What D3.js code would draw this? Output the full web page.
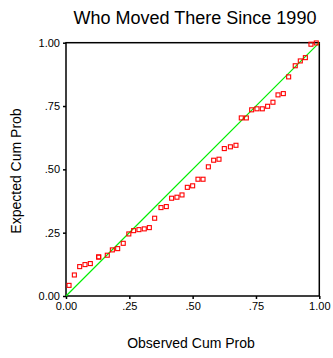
<!DOCTYPE html>
<html>
<head>
<meta charset="utf-8">
<script src="https://cdn.jsdelivr.net/npm/d3@7"></script>
<style>
  body { margin: 0; background: #fff; }
  svg { display: block; font-family: "Liberation Sans", Arial, sans-serif; }
</style>
</head>
<body>
<div id="chart"></div>
<script>
// observed cum prob (x) and expected cum prob (y)
var observed = [0.012, 0.033, 0.054, 0.075, 0.096, 0.129, 0.129, 0.163, 0.183, 0.204,
                0.226, 0.248, 0.267, 0.288, 0.309, 0.329, 0.350, 0.375, 0.396, 0.417,
                0.438, 0.458, 0.479, 0.500, 0.521, 0.541, 0.562, 0.583, 0.604, 0.625,
                0.649, 0.671, 0.692, 0.712, 0.733, 0.754, 0.775, 0.796, 0.817, 0.837,
                0.858, 0.879, 0.905, 0.925, 0.945, 0.967, 0.988];
var expected = [0.042, 0.083, 0.116, 0.124, 0.128, 0.154, 0.154, 0.161, 0.182, 0.187,
                0.208, 0.245, 0.258, 0.262, 0.265, 0.270, 0.307, 0.349, 0.353, 0.386,
                0.390, 0.399, 0.429, 0.435, 0.461, 0.461, 0.510, 0.536, 0.540, 0.582,
                0.589, 0.595, 0.703, 0.703, 0.735, 0.739, 0.739, 0.749, 0.765, 0.794,
                0.799, 0.865, 0.909, 0.928, 0.941, 0.994, 0.999];
var tickValues = [0, 0.25, 0.5, 0.75, 1];
var tickLabels = ["0.00", ".25", ".50", ".75", "1.00"];

var w = 333, h = 358;
var plotLeft = 66, plotRight = 319.3, plotTop = 42.7, plotBottom = 296;

var svg = d3.select("#chart").append("svg")
    .attr("width", w)
    .attr("height", h);

var x = d3.scaleLinear([0, 1], [plotLeft, plotRight]);
var y = d3.scaleLinear([0, 1], [plotBottom, plotTop]);

var points = observed.map(function (d, i) { return { x: d, y: expected[i] }; });

// frame
svg.append("rect")
    .attr("x", plotLeft).attr("y", plotTop)
    .attr("width", plotRight - plotLeft).attr("height", plotBottom - plotTop)
    .attr("fill", "none")
    .attr("stroke", "#000")
    .attr("stroke-width", 1.5);

// axes
var xAxis = d3.axisBottom(x).tickValues(tickValues)
    .tickFormat(function (d, i) { return tickLabels[i]; })
    .tickSize(3).tickSizeOuter(0).tickPadding(3);
var yAxis = d3.axisLeft(y).tickValues(tickValues)
    .tickFormat(function (d, i) { return tickLabels[i]; })
    .tickSize(3).tickSizeOuter(0).tickPadding(3);

svg.append("g")
    .attr("transform", "translate(0," + plotBottom + ")")
    .call(xAxis);
svg.append("g")
    .attr("transform", "translate(" + plotLeft + ",0)")
    .call(yAxis);

svg.selectAll(".domain").remove();
svg.selectAll(".tick line").attr("stroke", "#000").attr("stroke-width", 1.5);
svg.selectAll(".tick text")
    .attr("fill", "#000")
    .style("font-size", "11px")
    .style("font-family", "Liberation Sans, Arial, sans-serif");

// reference diagonal
svg.append("line")
    .attr("class", "diag")
    .attr("x1", x(0)).attr("y1", y(0))
    .attr("x2", x(1)).attr("y2", y(1))
    .style("stroke", "#00ee00")
    .style("stroke-width", 1.2);

// points
svg.selectAll("rect.pt")
    .data(points)
    .join("rect")
    .attr("class", "pt")
    .attr("x", function (d) { return x(d.x) - 2; })
    .attr("y", function (d) { return y(d.y) - 2; })
    .attr("width", 4)
    .attr("height", 4)
    .attr("fill", "none")
    .attr("stroke", "#ff0000")
    .attr("stroke-width", 1.1);

// titles
svg.append("text")
    .attr("x", 195).attr("y", 24)
    .attr("text-anchor", "middle")
    .style("font-size", "18px")
    .text("Who Moved There Since 1990");

svg.append("text")
    .attr("x", 191).attr("y", 348)
    .attr("text-anchor", "middle")
    .style("font-size", "14px")
    .text("Observed Cum Prob");

svg.append("text")
    .attr("transform", "translate(21,171) rotate(-90)")
    .attr("text-anchor", "middle")
    .style("font-size", "14px")
    .text("Expected Cum Prob");
</script>
</body>
</html>
